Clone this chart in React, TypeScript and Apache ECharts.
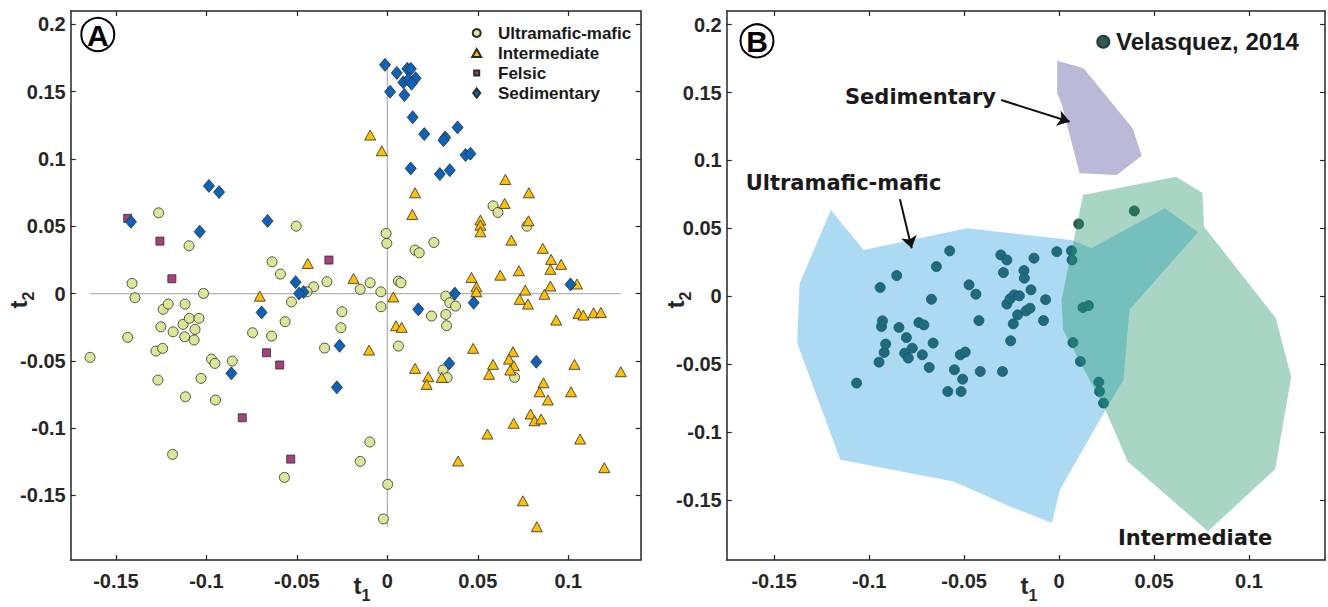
import React, { useEffect, useRef } from 'react';
import * as echarts from 'echarts';

// ---------- Panel A data (t1, t2) ----------
const ultramafic: [number, number][] = [
  [-0.1264, 0.060], [-0.1096, 0.0355], [-0.0504, 0.0501], [-0.0637, 0.0236], [-0.0591, 0.0145],
  [-0.1411, 0.0076], [-0.1395, -0.0031], [-0.1016, 0.0001], [-0.0407, 0.005], [-0.0444, 0.0013],
  [-0.0334, 0.0088], [-0.015, 0.0031], [-0.0095, 0.008], [-0.0036, 0.0013], [-0.0007, 0.0447],
  [-0.0003, 0.0373], [-0.053, -0.0062], [0.0153, 0.0323], [0.0176, 0.0303], [0.0257, 0.038],
  [0.0584, 0.0652], [0.0611, 0.0603], [0.0771, 0.0501], [0.0061, 0.0093], [0.0075, 0.008],
  [-0.1643, -0.0474], [-0.1435, -0.0325], [-0.1239, -0.0117], [-0.1211, -0.0078], [-0.1118, -0.0078],
  [-0.1252, -0.0247], [-0.1184, -0.0284], [-0.1129, -0.0229], [-0.1094, -0.0184], [-0.1041, -0.0184],
  [-0.1063, -0.0266], [-0.112, -0.0321], [-0.1068, -0.0345], [-0.1279, -0.0427], [-0.1242, -0.0407],
  [-0.0972, -0.0487], [-0.0953, -0.0519], [-0.0857, -0.0501], [-0.1268, -0.0643], [-0.103, -0.063],
  [-0.1116, -0.0767], [-0.095, -0.0791], [-0.1187, -0.1195], [-0.0745, -0.0291], [-0.064, -0.0316],
  [-0.0565, -0.0209], [-0.0251, -0.0135], [-0.0257, -0.0254], [-0.0347, -0.0405], [-0.0035, -0.0098],
  [-0.0097, -0.1103], [-0.015, -0.1247], [-0.0569, -0.1366], [0.0002, -0.1418], [-0.0022, -0.1675],
  [0.0061, -0.039], [0.0323, -0.0019], [0.0345, -0.0068], [0.0377, -0.0093], [0.0244, -0.0167],
  [0.0323, -0.0155], [0.0327, -0.0239], [0.0308, -0.0568], [0.033, -0.0625], [0.0703, -0.0623],
];

const intermediate: [number, number][] = [
  [-0.0095, 0.1178], [-0.0031, 0.1061], [-0.044, 0.0224], [-0.0187, 0.0113], [-0.0705, -0.0019],
  [0.0652, 0.0848], [0.0782, 0.0749], [0.0153, 0.0749], [0.0138, 0.0588], [0.0648, 0.067],
  [0.0514, 0.0546], [0.0514, 0.0508], [0.0514, 0.0459], [0.078, 0.0541], [0.0685, 0.0397],
  [0.0859, 0.0336], [0.0905, 0.0254], [0.096, 0.0217], [0.0901, 0.018], [0.0465, 0.012],
  [0.0624, 0.0137], [0.0727, 0.017], [0.1048, 0.0071], [0.0901, 0.0056], [0.0492, 0.005],
  [0.0492, 0.0013], [0.0762, 0.0026], [0.0868, -0.0005], [0.0033, -0.0025], [0.0731, -0.0043],
  [0.0777, -0.0078], [0.0933, -0.0197], [0.1056, -0.0147], [0.1083, -0.016], [0.114, -0.0143],
  [0.118, -0.014], [0.0474, -0.0407], [0.0694, -0.0432], [0.0672, -0.0487], [0.0584, -0.0526],
  [0.0699, -0.0536], [0.0679, -0.0568], [0.0562, -0.060], [0.1034, -0.0526], [0.129, -0.0581],
  [0.0863, -0.0663], [0.0841, -0.073], [0.0887, -0.0791], [0.1015, -0.073], [0.0791, -0.0895],
  [0.0813, -0.0945], [0.085, -0.0932], [0.0698, -0.0964], [0.0553, -0.1044], [0.1065, -0.1081],
  [0.0048, -0.0239], [0.0079, -0.0251], [-0.0101, -0.042], [0.0153, -0.0556], [0.0226, -0.0618],
  [0.0217, -0.0675], [0.03, -0.0623], [0.0391, -0.1244], [0.0749, -0.154], [0.0826, -0.1733],
  [0.1199, -0.1294],
];

const felsic: [number, number][] = [
  [-0.1435, 0.0559], [-0.1257, 0.039], [-0.1191, 0.011], [-0.0323, 0.0249], [-0.0668, -0.044],
  [-0.0595, -0.0531], [-0.0802, -0.0923], [-0.0534, -0.123],
];

const sedimentary: [number, number][] = [
  [-0.0013, 0.170], [0.0052, 0.164], [0.011, 0.167], [0.013, 0.167], [0.0156, 0.160],
  [0.0088, 0.157], [0.0116, 0.159], [0.0134, 0.156], [0.0015, 0.150], [0.0094, 0.1475],
  [0.014, 0.131], [0.0204, 0.1185], [0.032, 0.116], [0.031, 0.114], [0.0388, 0.1235],
  [0.0432, 0.103], [0.0459, 0.104], [0.0129, 0.093], [0.029, 0.0888], [0.0345, 0.0917],
  [0.1012, 0.0068], [0.0477, -0.0068], [0.0373, 0.0], [0.0171, -0.0117], [-0.0264, -0.0388],
  [-0.0279, -0.0697], [0.0342, -0.0519], [0.0823, -0.0507], [-0.0986, 0.080], [-0.093, 0.0754],
  [-0.1417, 0.0533], [-0.1037, 0.046], [-0.0662, 0.054], [-0.0507, 0.0085], [-0.0463, 0.0011],
  [-0.0488, 0.0], [-0.0695, -0.014], [-0.0862, -0.0593],
];

// ---------- Panel B data ----------
const velasquez: [number, number][] = [
  [-0.1066, -0.0638], [-0.0948, -0.0484], [-0.0921, -0.0413], [-0.0913, -0.0351], [-0.0935, -0.0222],
  [-0.093, -0.018], [-0.0942, 0.0065], [-0.0855, 0.0153], [-0.0843, -0.0229], [-0.0804, -0.0303],
  [-0.0773, -0.0381], [-0.0813, -0.0418], [-0.0794, -0.0454], [-0.072, -0.043], [-0.0738, -0.0193],
  [-0.0712, -0.021], [-0.0663, -0.0344], [-0.0684, -0.0523], [-0.0672, -0.0021], [-0.0646, 0.0219],
  [-0.0576, 0.0335], [-0.0551, -0.054], [-0.0508, -0.0609], [-0.0586, -0.07], [-0.0516, -0.07],
  [-0.052, -0.043], [-0.0494, -0.041], [-0.0415, -0.0553], [-0.0422, -0.0178], [-0.0474, 0.0085],
  [-0.0438, 0.0016], [-0.0298, -0.0553], [-0.0255, -0.0327], [-0.0241, -0.0202], [-0.0218, -0.0136],
  [-0.0275, -0.0057], [-0.0258, -0.0018], [-0.0236, 0.0011], [-0.0209, 0.0004], [-0.0293, 0.0175],
  [-0.0307, 0.0305], [-0.0275, 0.0268], [-0.0185, 0.019], [-0.0183, 0.0134], [-0.0132, 0.0281],
  [-0.0148, 0.0048], [-0.0174, -0.0107], [-0.0153, -0.0087], [-0.0071, -0.0024], [-0.0082, -0.0178],
  [-0.0012, 0.0329], [0.0065, 0.0335], [0.0068, 0.0268], [0.0126, -0.0082], [0.0155, -0.0068],
  [0.0073, -0.034], [0.0112, -0.0479], [0.0209, -0.0631], [0.0213, -0.07], [0.0234, -0.0785],
  [0.0103, 0.0533], [0.0396, 0.0629],
];

const regionUltramafic: [number, number][] = [
  [-0.1201, 0.0636], [-0.1029, 0.0342], [-0.0485, 0.0501], [0.0065, 0.0415], [0.017, 0.0354],
  [0.0557, 0.0649], [0.0731, 0.0472], [0.037, -0.0099], [0.0339, -0.0614], [0.0245, -0.0835],
  [0.0004, -0.1423], [-0.0037, -0.1668], [-0.0258, -0.1546], [-0.0555, -0.1362], [-0.1152, -0.1202],
  [-0.1379, -0.0344], [-0.1366, 0.0097],
];

const regionIntermediate: [number, number][] = [
  [0.0126, 0.0746], [0.0615, 0.0881], [0.0754, 0.0763], [0.0763, 0.0513], [0.1141, -0.016],
  [0.1222, -0.0594], [0.1138, -0.1271], [0.0784, -0.1729], [0.0361, -0.1215], [0.0239, -0.082],
  [0.0021, -0.0246], [0.0013, -0.0026],
];

const regionSedimentary: [number, number][] = [
  [-0.001, 0.1734], [0.0129, 0.1678], [0.0387, 0.1237], [0.0435, 0.1035], [0.0304, 0.0893],
  [0.0108, 0.0906], [0.0013, 0.142], [-0.001, 0.1494],
];

const arrowSedimentary: [number, number][] = [[-0.0305, 0.1445], [0.0056, 0.1285]];
const arrowUltramafic: [number, number][] = [[-0.0838, 0.0715], [-0.0776, 0.0354]];

// ---------- Axes ----------
const xTicks = [-0.15, -0.1, -0.05, 0, 0.05, 0.1];
const yTicks = [-0.15, -0.1, -0.05, 0, 0.05, 0.1, 0.15, 0.2];
const xRange = [-0.175, 0.14];
const yRangeA = [-0.198, 0.21];
const yRangeB = [-0.194, 0.21];

const AX = '#262626';
const TICK_FONT = "'Liberation Sans', Arial, sans-serif";
const ANN_FONT = "'DejaVu Sans', sans-serif";
const fmt = (v: number) => String(Math.round(v * 1000) / 1000);

function xAxis(gridIndex: number, position: 'bottom' | 'top') {
  return {
    type: 'value', gridIndex, position, min: xRange[0], max: xRange[1],
    axisLine: { show: true, onZero: false, lineStyle: { color: AX, width: 1.5 } },
    axisTick: { show: true, inside: true, length: 5, customValues: xTicks, lineStyle: { color: AX, width: 1.2 } },
    axisLabel: {
      show: position === 'bottom', customValues: xTicks, formatter: fmt, margin: 11,
      fontSize: 20, fontWeight: 'bold', fontFamily: TICK_FONT, color: AX,
    },
    splitLine: { show: false },
  };
}
function yAxis(gridIndex: number, position: 'left' | 'right', range: number[]) {
  return {
    type: 'value', gridIndex, position, min: range[0], max: range[1],
    axisLine: { show: true, onZero: false, lineStyle: { color: AX, width: 1.5 } },
    axisTick: { show: true, inside: true, length: 5, customValues: yTicks, lineStyle: { color: AX, width: 1.2 } },
    axisLabel: {
      show: position === 'left', customValues: yTicks, formatter: fmt, margin: 5,
      fontSize: 20, fontWeight: 'bold', fontFamily: TICK_FONT, color: AX,
    },
    splitLine: { show: false },
  };
}

const EDGE = '#2b2b2b';
const allA = [...ultramafic, ...intermediate, ...felsic, ...sedimentary];
const xs = allA.map((p) => p[0]);
const ys = allA.map((p) => p[1]);

function region(name: string, verts: [number, number][], fill: string, z: number) {
  return {
    type: 'custom', name, xAxisIndex: 2, yAxisIndex: 2, z, silent: true, clip: true,
    data: verts, encode: { x: 0, y: 1 },
    renderItem: (params: any, api: any) => {
      if (params.dataIndex !== 0) return null;
      return {
        type: 'polygon',
        shape: { points: verts.map((v) => api.coord(v)) },
        style: { fill, stroke: 'none' },
      };
    },
  };
}

function legendItem(name: string, cy: number, w: number, h: number, cx: number, textX: number, fontSize: number, lh: number) {
  const left = cx - w / 2;
  return {
    data: [name], left, top: cy - lh / 2, itemWidth: w, itemHeight: h, selectedMode: false,
    orient: 'horizontal', itemGap: 0, padding: 0,
    textStyle: {
      fontSize, fontWeight: 'bold', fontFamily: TICK_FONT, color: '#1a1a1a', lineHeight: lh,
      padding: [0, 0, 0, Math.max(0, textX - (left + w + 5))],
    },
  };
}

function subText(x: number, y: number, main: string, sub: string, rotate: boolean) {
  return {
    type: 'text', x, y, rotation: rotate ? Math.PI / 2 : 0,
    style: {
      text: `{m|${main}}{s|${sub}}`, align: 'center', verticalAlign: 'middle',
      rich: {
        m: { fontSize: 24, fontWeight: 'bold', fontFamily: TICK_FONT, fill: AX, color: AX },
        s: { fontSize: 16, fontWeight: 'bold', fontFamily: TICK_FONT, fill: AX, color: AX, padding: [20, 0, 0, 0] },
      },
    },
  };
}

function annText(x: number, y: number, text: string) {
  return {
    type: 'text', x, y,
    style: { text, align: 'left', verticalAlign: 'middle', fill: '#1a1a1a', fontSize: 21, fontWeight: 'bold', fontFamily: ANN_FONT },
  };
}

function panelLabel(cx: number, cy: number, letter: string) {
  return [
    { type: 'circle', shape: { cx, cy, r: 16.5 }, style: { fill: '#fff', stroke: '#000', lineWidth: 2 }, z: 100 },
    {
      type: 'text', x: cx, y: cy + 1, z: 101,
      style: { text: letter, align: 'center', verticalAlign: 'middle', fill: '#000', fontSize: 30, fontWeight: 'bold', fontFamily: TICK_FONT },
    },
  ];
}

const option: any = {
  animation: false,
  backgroundColor: '#ffffff',
  grid: [
    { left: 70.7, top: 11, width: 570, height: 549, containLabel: false },
    { left: 726.7, top: 11, width: 598.3, height: 549, containLabel: false },
  ],
  xAxis: [xAxis(0, 'bottom'), xAxis(0, 'top'), xAxis(1, 'bottom'), xAxis(1, 'top')],
  yAxis: [yAxis(0, 'left', yRangeA), yAxis(0, 'right', yRangeA), yAxis(1, 'left', yRangeB), yAxis(1, 'right', yRangeB)],
  legend: [
    legendItem('Ultramafic-mafic', 33, 8, 8, 475.7, 497, 17, 20),
    legendItem('Intermediate', 53, 9, 8, 475.7, 497, 17, 20),
    legendItem('Felsic', 73, 5, 5, 475.7, 497, 17, 20),
    legendItem('Sedimentary', 93, 7, 9, 475.7, 497, 17, 20),
    legendItem('Velasquez, 2014', 41.7, 12, 12, 1102.3, 1115, 24, 26),
  ],
  series: [
    {
      type: 'line', xAxisIndex: 0, yAxisIndex: 0, silent: true, symbol: 'none', z: 1,
      data: [[Math.min(...xs), 0], [Math.max(...xs), 0]],
      lineStyle: { color: '#b3b3b3', width: 1.3 },
    },
    {
      type: 'line', xAxisIndex: 0, yAxisIndex: 0, silent: true, symbol: 'none', z: 1,
      data: [[0, Math.min(...ys)], [0, Math.max(...ys)]],
      lineStyle: { color: '#b3b3b3', width: 1.3 },
    },
    {
      name: 'Ultramafic-mafic', type: 'scatter', xAxisIndex: 0, yAxisIndex: 0, z: 3,
      symbol: 'circle', symbolSize: 10, data: ultramafic,
      itemStyle: { color: '#dde597', borderColor: EDGE, borderWidth: 0.8, opacity: 1 },
    },
    {
      name: 'Intermediate', type: 'scatter', xAxisIndex: 0, yAxisIndex: 0, z: 4,
      symbol: 'triangle', symbolSize: [11, 10], data: intermediate,
      itemStyle: { color: '#ffc000', borderColor: EDGE, borderWidth: 0.8, opacity: 1 },
    },
    {
      name: 'Felsic', type: 'scatter', xAxisIndex: 0, yAxisIndex: 0, z: 5,
      symbol: 'rect', symbolSize: 8, data: felsic,
      itemStyle: { color: '#a6407e', borderColor: EDGE, borderWidth: 0.8, opacity: 1 },
    },
    {
      name: 'Sedimentary', type: 'scatter', xAxisIndex: 0, yAxisIndex: 0, z: 6,
      symbol: 'diamond', symbolSize: [11, 13], data: sedimentary,
      itemStyle: { color: '#0a64bd', borderColor: EDGE, borderWidth: 0.8, opacity: 1 },
    },
    {
      name: 'Velasquez, 2014', type: 'scatter', xAxisIndex: 2, yAxisIndex: 2, z: 2,
      symbol: 'circle', symbolSize: 10, data: velasquez,
      itemStyle: { color: '#2d5a55', borderColor: '#1e3d3a', borderWidth: 0.8, opacity: 1 },
    },
    region('Ultramafic-mafic region', regionUltramafic, 'rgba(0,143,215,0.33)', 3),
    region('Intermediate region', regionIntermediate, 'rgba(37,150,107,0.4)', 4),
    region('Sedimentary region', regionSedimentary, '#bab9d7', 5),
    {
      type: 'lines', coordinateSystem: 'cartesian2d', xAxisIndex: 2, yAxisIndex: 2, z: 10, silent: true,
      symbol: ['none', 'arrow'], symbolSize: [0, 12],
      lineStyle: { color: '#111', width: 2, opacity: 1 },
      data: [{ coords: arrowSedimentary }, { coords: arrowUltramafic }],
    },
  ],
  graphic: [
    ...panelLabel(97.8, 34.5, 'A'),
    ...panelLabel(757, 40.8, 'B'),
    subText(362, 585, 't', '1', false),
    subText(1029, 585, 't', '1', false),
    subText(18, 300, 't', '2', true),
    subText(675, 300, 't', '2', true),
    annText(845, 97, 'Sedimentary'),
    annText(745.7, 183, 'Ultramafic-mafic'),
    annText(1118, 538, 'Intermediate'),
  ],
};

export default function App() {
  const ref = useRef<HTMLDivElement>(null);
  useEffect(() => {
    if (!ref.current) return;
    const chart = echarts.init(ref.current, null, { renderer: 'svg' });
    chart.setOption(option);
    return () => chart.dispose();
  }, []);
  return (
    <div
      ref={ref}
      style={{ position: 'absolute', left: 0, top: 0, width: 1328, height: 607, background: '#fff' }}
    />
  );
}
